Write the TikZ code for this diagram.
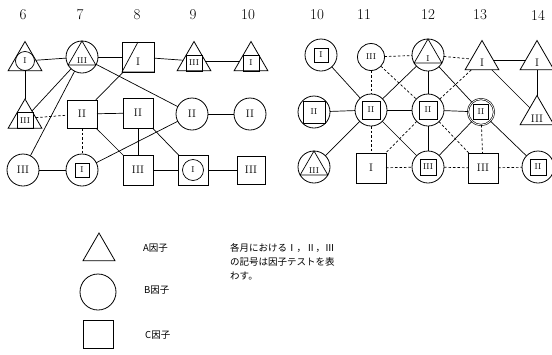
\documentclass[tikz,border=0pt]{standalone}
\usepackage{fontspec}
\newfontfamily\jp{Noto Sans CJK JP}
\usetikzlibrary{shapes.geometric}
\tikzset{
 shp/.style={draw, line width=0.8pt, inner sep=0pt, outer sep=0pt, font=\fontsize{11}{11}\selectfont},
 circ/.style={shp, circle, minimum size=32pt},
 scirc/.style={shp, circle, minimum size=27pt},
 tri/.style={shp, regular polygon, regular polygon sides=3, minimum size=39pt},
 sq/.style={shp, rectangle, minimum width=30pt, minimum height=30pt},
 inshape/.style={draw, line width=0.7pt, inner sep=0pt, outer sep=0pt, font=\fontsize{8.5}{8.5}\selectfont},
 isq/.style={inshape, rectangle, minimum size=16pt},
 itri/.style={inshape, regular polygon, regular polygon sides=3, minimum size=32pt},
 icirc/.style={inshape, circle, minimum size=21pt},
 tsq/.style={inshape, rectangle, minimum size=15.8pt},
 txt/.style={inner sep=0pt, font=\fontsize{8.5}{8.5}\selectfont},
 btxt/.style={inner sep=0pt, font=\fontsize{11}{11}\selectfont},
 con/.style={line width=0.7pt},
 dcon/.style={line width=0.7pt, dash pattern=on 2.5pt off 2pt},
 hdr/.style={inner sep=0pt, font=\fontsize{15}{15}\selectfont},
 jtxt/.style={inner sep=0pt, anchor=west, font=\jp\fontsize{9.5}{9.5}\selectfont},
}
\begin{document}
\begin{tikzpicture}[x=1pt, y=-1pt]
\useasboundingbox (0,0) rectangle (552,354);
% headers
\node[hdr] (h6) at (23,15) {6};
\node[hdr] (h7) at (80,15) {7};
\node[hdr] (h8) at (137,15) {8};
\node[hdr] (h9) at (193,15) {9};
\node[hdr] (h10) at (248,15) {10};
\node[hdr] (hr10) at (317,15) {10};
\node[hdr] (hr11) at (364,15) {11};
\node[hdr] (hr12) at (428,15) {12};
\node[hdr] (hr13) at (480,15) {13};
\node[hdr] (hr14) at (538,15) {14};

% ---------- left panel ----------
\node[tri] (L6t) at (25,61) {};
\node[icirc, minimum size=19pt] (L6ti) at (25,61) {I};
\node[circ] (L7t) at (82,57) {};
\node[itri] (L7ti) at (82,57) {};
\node[txt] (L7tt) at (82,61) {III};
\node[sq, minimum width=32pt] (L8t) at (138,57) {};
\draw[con] (L8t.north) -- (L8t.south west) -- (L8t.south east);
\node[btxt] (L8tt) at (138,62) {I};
\node[tri] (L9t) at (194,61) {};
\node[tsq] (L9ti) at (194,63) {III};
\node[tri] (L10t) at (251,61) {};
\node[tsq] (L10ti) at (251,63) {I};

\node[tri] (L6m) at (25,118.5) {};
\node[tsq] (L6mi) at (25,120.5) {III};
\node[sq, minimum height=28pt] (L7m) at (82,114) {II};
\node[sq] (L8m) at (138,113) {II};
\node[circ] (L9m) at (192,114) {II};
\node[circ] (L10m) at (250,114) {II};

\node[circ] (L6b) at (23,170) {III};
\node[circ] (L7b) at (82,170) {};
\node[isq, minimum size=14pt] (L7bi) at (82,170) {I};
\node[sq] (L8b) at (138,170) {III};
\node[sq] (L9b) at (193,170) {};
\node[icirc] (L9bi) at (193,170) {I};
\node[sq, minimum size=28pt] (L10b) at (251,170) {III};

\draw[con] (L6t) -- (L7t);
\draw[con] (L7t) -- (L8t);
\draw[con] (L8t) -- (L9t);
\draw[con] (L9t) -- (L10t);
\draw[con] (L6t) -- (L6m);
\draw[con] (L7t) -- (L6m);
\draw[con] (L7t) -- (L6b);
\draw[con] (L7t) -- (L9m);
\draw[con] (L8t) -- (L7m);
\draw[con] (L7m) -- (L8m);
\draw[con] (L7m) -- (L8b);
\draw[con] (L8m) -- (L9b);
\draw[con] (L7b) -- (L9m);
\draw[con] (L6b) -- (L7b);
\draw[con] (L8b) -- (L9b);
\draw[con] (L9b) -- (L10b);
\draw[con] (L9m) -- (L10m);
\draw[line width=0.5pt] (L8m) -- (L8b);
\draw[dcon] (L6m) -- (L7m);
\draw[dcon] (L7m) -- (L7b);

% ---------- right panel ----------
\node[circ] (R10t) at (321,55) {};
\node[isq, minimum size=14pt] (R10ti) at (321,55) {I};
\node[scirc] (R11t) at (371,57) {\fontsize{8.5}{8.5}\selectfont III};
\node[circ] (R12t) at (428,55) {};
\node[itri] (R12ti) at (428,55) {};
\node[txt] (R12tt) at (428,59) {I};
\node[tri] (R13t) at (482,60) {};
\node[btxt] (R13tt) at (482,63) {I};
\node[tri] (R14t) at (537,60) {};
\node[btxt] (R14tt) at (537,63) {I};

\node[circ] (R10m) at (314,112) {};
\node[isq, minimum size=22pt] (R10mi) at (314,112) {II};
\node[circ] (R11m) at (371,110) {};
\node[isq, minimum size=18pt] (R11mi) at (371,110) {II};
\node[circ] (R12m) at (428,110) {};
\node[isq, minimum size=18pt] (R12mi) at (428,110) {II};
\node[shp, circle, minimum size=26pt, line width=0.6pt, double, double distance=0.8pt] (R13m) at (481,112) {};
\node[isq, minimum size=15pt] (R13mi) at (481,112) {II};
\node[tri] (R14m) at (537,115) {};
\node[btxt] (R14mt) at (537,119) {III};

\node[circ] (R10b) at (314,167) {};
\node[itri] (R10bi) at (314,167) {};
\node[txt] (R10bt) at (314,171) {III};
\node[sq] (R11b) at (371,168) {I};
\node[circ] (R12b) at (428,167) {};
\node[isq] (R12bi) at (428,167) {III};
\node[sq] (R13b) at (483,168) {III};
\node[circ] (R14b) at (538,167) {};
\node[isq] (R14bi) at (538,167) {II};

\draw[con] (R13t) -- (R14t);
\draw[con] (R14t) -- (R14m);
\draw[con] (R13t) -- (R14m);
\draw[con] (R10t) -- (R11m);
\draw[con] (R10m) -- (R11m);
\draw[con] (R10b) -- (R11m);
\draw[con] (R11m) -- (R12t);
\draw[con] (R11m) -- (R12m);
\draw[con] (R11m) -- (R12b);
\draw[con] (R12t) -- (R12m);
\draw[con] (R12t) -- (R13m);
\draw[con] (R12m) -- (R13m);
\draw[con] (R12m) -- (R12b);
\draw[con] (R13m) -- (R12b);
\draw[con] (R13m) -- (R14b);

\draw[dcon] (R11t) -- (R12t);
\draw[dcon] (R12t) -- (R13t);
\draw[dcon] (R11t) -- (R11m);
\draw[dcon] (R11t) -- (R12m);
\draw[dcon] (R12m) -- (R13t);
\draw[dcon] (R11m) -- (R11b);
\draw[dcon] (R11b) -- (R12b);
\draw[dcon] (R12b) -- (R13b);
\draw[dcon] (R13b) -- (R14b);
\draw[dcon] (R12m) -- (R11b);
\draw[dcon] (R12m) -- (R13b);
\draw[dcon] (R13m) -- (R13b);

% ---------- legend ----------
\node[shp, regular polygon, regular polygon sides=3, minimum size=37pt] (LgA) at (99,251.5) {};
\node[shp, circle, minimum size=36pt] (LgB) at (98,292) {};
\node[shp, rectangle, minimum width=30pt, minimum height=28pt] (LgC) at (98,334) {};
\node[jtxt] (LtA) at (143,248) {A因子};
\node[jtxt] (LtB) at (144,290) {B因子};
\node[jtxt] (LtC) at (145,335) {C因子};
\node[jtxt] (N1) at (230,248) {各月におけるⅠ，Ⅱ，Ⅲ};
\node[jtxt] (N2) at (230,262) {の記号は因子テストを表};
\node[jtxt] (N3) at (230,276) {わす。};
\end{tikzpicture}
\end{document}
